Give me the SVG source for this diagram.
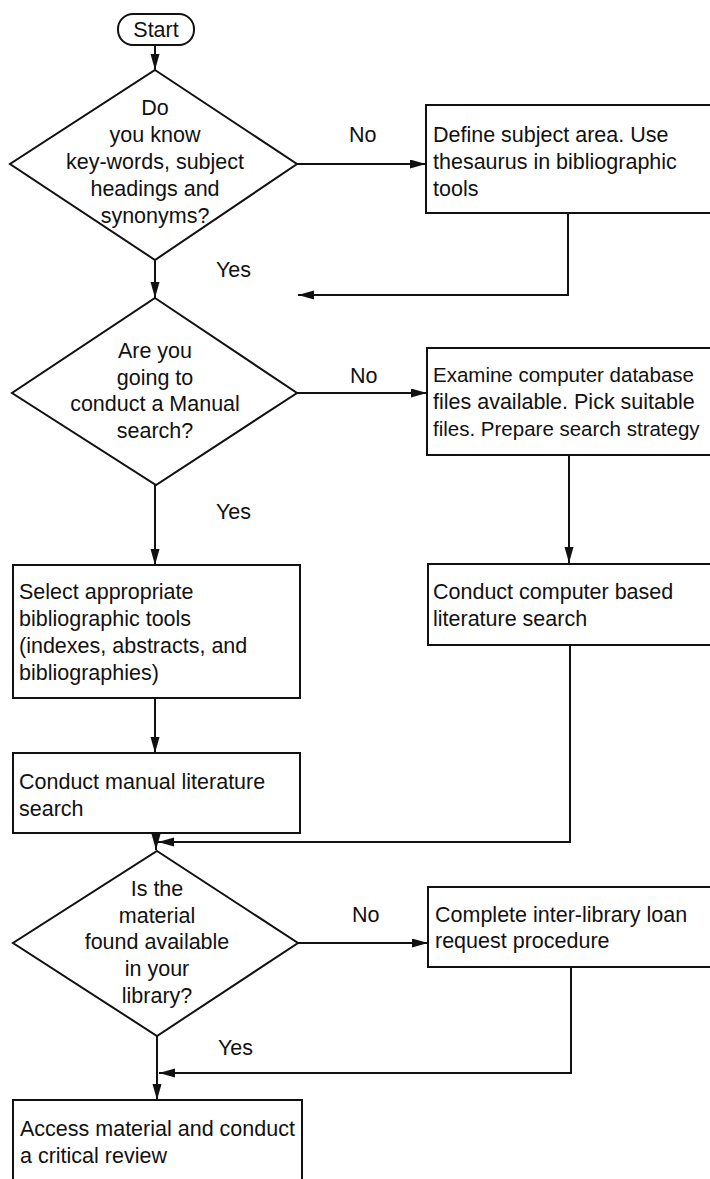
<svg xmlns="http://www.w3.org/2000/svg" width="710" height="1179" viewBox="0 0 710 1179">
  <style>
    .shape { fill: #fff; stroke: #111; stroke-width: 2; }
    .wire { fill: none; stroke: #111; stroke-width: 2; }
    text { font-family: "Liberation Sans", Arial, Helvetica, sans-serif; font-size: 21.5px; fill: #111; }
    .c { text-anchor: middle; }
    .tight { font-size: 20.5px; }
  </style>
  <defs>
    <marker id="arrow" markerUnits="userSpaceOnUse" markerWidth="17" markerHeight="10" refX="16" refY="4.5" orient="auto">
      <path d="M0,0 L16,4.5 L0,9 z" fill="#111"/>
    </marker>
  </defs>

  <rect width="710" height="1179" fill="#fff"/>

  <!-- connectors -->
  <g id="connectors">
    <line class="wire" x1="155" y1="45" x2="155" y2="70" marker-end="url(#arrow)"/>
    <line class="wire" x1="297" y1="164" x2="426" y2="164" marker-end="url(#arrow)"/>
    <polyline class="wire" points="568,213 568,295 298,295" marker-end="url(#arrow)"/>
    <line class="wire" x1="155" y1="260" x2="155" y2="298" marker-end="url(#arrow)"/>
    <line class="wire" x1="297" y1="393" x2="427" y2="393" marker-end="url(#arrow)"/>
    <line class="wire" x1="155" y1="485" x2="155" y2="565" marker-end="url(#arrow)"/>
    <line class="wire" x1="569" y1="455" x2="569" y2="563" marker-end="url(#arrow)"/>
    <line class="wire" x1="155" y1="698" x2="155" y2="753" marker-end="url(#arrow)"/>
    <line class="wire" x1="156" y1="833" x2="156" y2="850" marker-end="url(#arrow)"/>
    <polyline class="wire" points="570,645 570,842 158,842" marker-end="url(#arrow)"/>
    <line class="wire" x1="298" y1="943" x2="428" y2="943" marker-end="url(#arrow)"/>
    <line class="wire" x1="157" y1="1036" x2="157" y2="1100" marker-end="url(#arrow)"/>
    <polyline class="wire" points="571,967 571,1073 159,1073" marker-end="url(#arrow)"/>
  </g>

  <!-- branch labels -->
  <g id="labels">
    <text x="349" y="142">No</text>
    <text x="216" y="277">Yes</text>
    <text x="350" y="383">No</text>
    <text x="216" y="519">Yes</text>
    <text x="352" y="922">No</text>
    <text x="218" y="1055">Yes</text>
  </g>

  <g id="start">
    <rect class="shape" x="118" y="14" width="76" height="31" rx="15" ry="15"/>
    <text class="c" x="156" y="37">Start</text>
  </g>

  <g id="know-keywords">
    <polygon class="shape" points="155,70 297,164 155,260 10,164"/>
    <text class="c" x="155" y="115">Do</text>
    <text class="c" x="155" y="142">you know</text>
    <text class="c" x="155" y="169">key-words, subject</text>
    <text class="c" x="155" y="196">headings and</text>
    <text class="c" x="155" y="223">synonyms?</text>
  </g>

  <g id="define-subject">
    <rect class="shape" x="426" y="105" width="300" height="108"/>
    <text x="433" y="142">Define subject area. Use</text>
    <text x="433" y="169">thesaurus in bibliographic</text>
    <text x="433" y="196">tools</text>
  </g>

  <g id="manual-search">
    <polygon class="shape" points="155,298 297,393 156,485 12,393"/>
    <text class="c" x="155" y="358">Are you</text>
    <text class="c" x="155" y="385">going to</text>
    <text class="c" x="155" y="411">conduct a Manual</text>
    <text class="c" x="155" y="438">search?</text>
  </g>

  <g id="examine-database">
    <rect class="shape" x="427" y="348" width="300" height="107"/>
    <text class="tight" x="433" y="382">Examine computer database</text>
    <text x="433" y="409">files available. Pick suitable</text>
    <text class="tight" x="433" y="436">files. Prepare search strategy</text>
  </g>

  <g id="select-tools">
    <rect class="shape" x="13" y="565" width="287" height="133"/>
    <text x="19" y="599">Select appropriate</text>
    <text x="19" y="626">bibliographic tools</text>
    <text x="19" y="653">(indexes, abstracts, and</text>
    <text x="19" y="680">bibliographies)</text>
  </g>

  <g id="computer-search">
    <rect class="shape" x="428" y="564" width="300" height="81"/>
    <text x="433" y="599">Conduct computer based</text>
    <text x="433" y="626">literature search</text>
  </g>

  <g id="manual-literature">
    <rect class="shape" x="13" y="753" width="287" height="80"/>
    <text x="19" y="789">Conduct manual literature</text>
    <text x="19" y="816">search</text>
  </g>

  <g id="material-available">
    <polygon class="shape" points="157,851 298,943 157,1036 13,943"/>
    <text class="c" x="157" y="896">Is the</text>
    <text class="c" x="157" y="923">material</text>
    <text class="c" x="157" y="949">found available</text>
    <text class="c" x="157" y="976">in your</text>
    <text class="c" x="157" y="1003">library?</text>
  </g>

  <g id="inter-library-loan">
    <rect class="shape" x="428" y="887" width="300" height="80"/>
    <text x="435" y="922">Complete inter-library loan</text>
    <text x="435" y="948">request procedure</text>
  </g>

  <g id="critical-review">
    <rect class="shape" x="13" y="1100" width="289" height="90"/>
    <text x="20" y="1136">Access material and conduct</text>
    <text x="20" y="1163">a critical review</text>
  </g>
</svg>
